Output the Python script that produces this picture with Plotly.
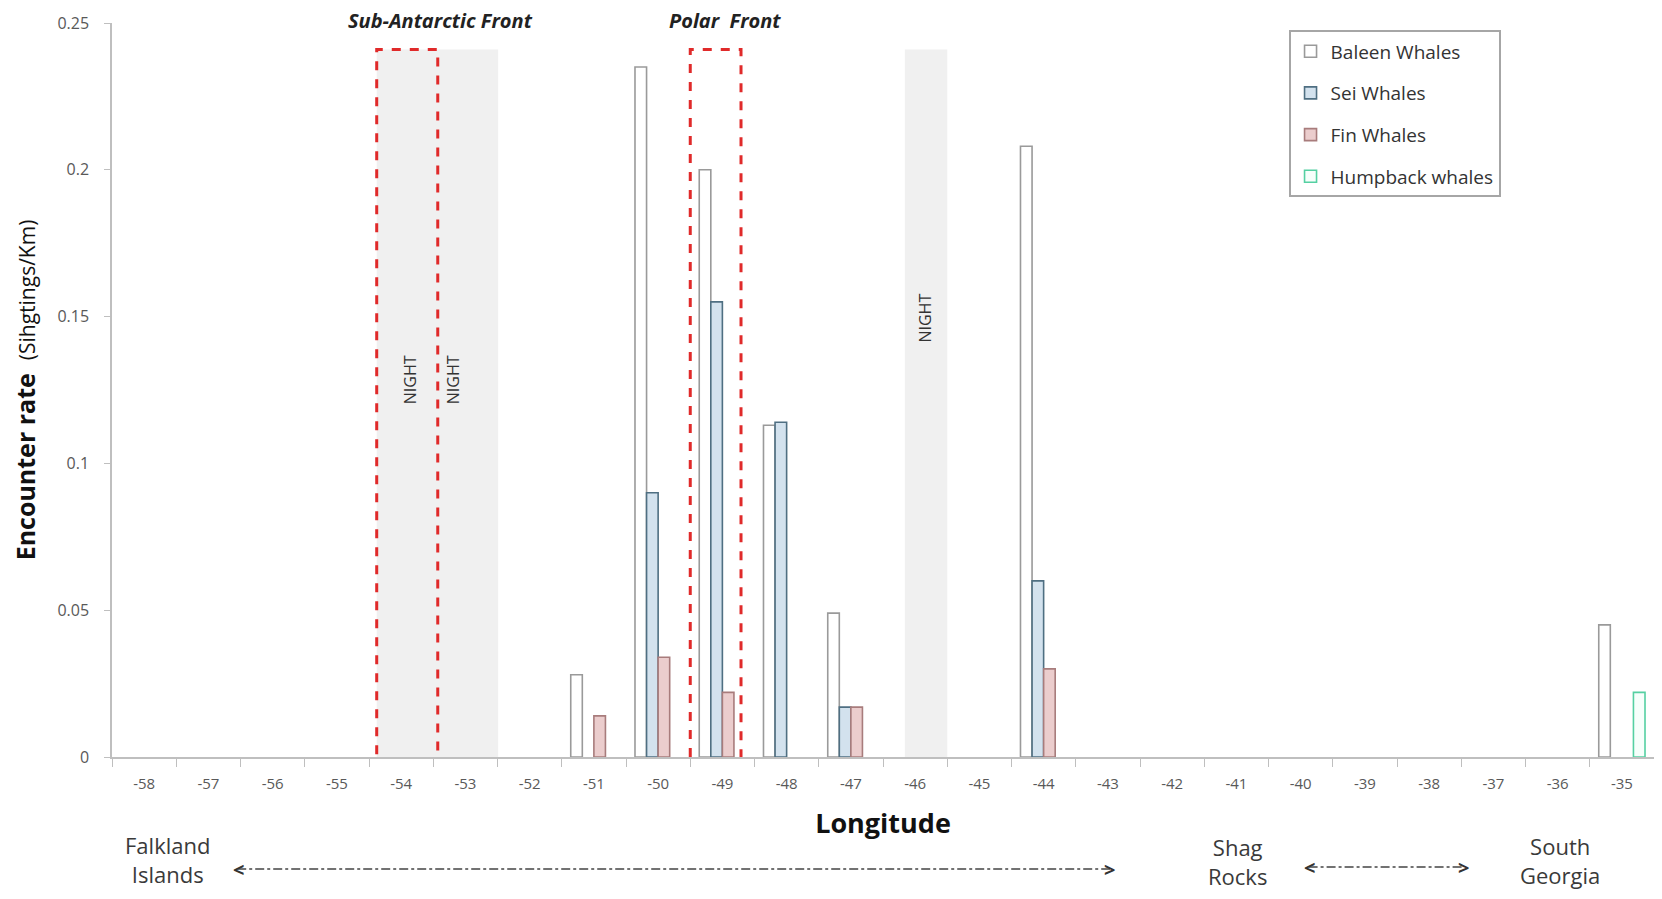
import plotly.graph_objects as go

longitudes = [-58, -57, -56, -55, -54, -53, -52, -51, -50, -49, -48, -47,
              -46, -45, -44, -43, -42, -41, -40, -39, -38, -37, -36, -35]
tick_labels = [str(v) for v in longitudes]

baleen   = [0, 0, 0, 0, 0, 0, 0, 0.028, 0.235, 0.200, 0.113, 0.049,
            0, 0, 0.208, 0, 0, 0, 0, 0, 0, 0, 0, 0.045]
sei      = [0, 0, 0, 0, 0, 0, 0, 0, 0.090, 0.155, 0.114, 0.017,
            0, 0, 0.060, 0, 0, 0, 0, 0, 0, 0, 0, 0]
fin      = [0, 0, 0, 0, 0, 0, 0, 0.014, 0.034, 0.022, 0, 0.017,
            0, 0, 0.030, 0, 0, 0, 0, 0, 0, 0, 0, 0]
humpback = [0, 0, 0, 0, 0, 0, 0, 0, 0, 0, 0, 0,
            0, 0, 0, 0, 0, 0, 0, 0, 0, 0, 0, 0.022]

y_ticks = [0, 0.05, 0.1, 0.15, 0.2, 0.25]
y_tick_labels = ["0", "0.05", "0.1", "0.15", "0.2", "0.25"]

series = [
    ("Baleen Whales", baleen, "#ffffff", "#9a9a9a"),
    ("Sei Whales", sei, "#d3e2ee", "#4f6f82"),
    ("Fin Whales", fin, "#ebcdcd", "#a87c7c"),
    ("Humpback whales", humpback, "#f6fffb", "#55d0a2"),
]

FONT = "Open Sans"

fig = go.Figure()
for name, vals, fill, edge in series:
    xs = [x for x, v in zip(longitudes, vals) if v]
    ys = [v for v in vals if v]
    fig.add_trace(go.Bar(
        x=xs, y=ys, name=name, legendgroup=name,
        marker=dict(color=fill, line=dict(color=edge, width=1.6)),
    ))

# night shading
night_bands = [(-54.38, -52.49), (-46.16, -45.50)]
for x0, x1 in night_bands:
    fig.add_shape(type="rect", xref="x", yref="y", x0=x0, x1=x1, y0=0, y1=0.241,
                  fillcolor="#f0f0f0", line=dict(width=0), layer="below")

# front boxes
front_boxes = [(-54.38, -53.43), (-49.50, -48.71)]
for x0, x1 in front_boxes:
    fig.add_shape(type="rect", xref="x", yref="y", x0=x0, x1=x1, y0=-0.0015, y1=0.241,
                  fillcolor="rgba(0,0,0,0)", line=dict(color="#e02a2a", width=3, dash="dash"),
                  layer="above")

# NIGHT labels
for xn, yn in [(-53.85, 0.1286), (-53.18, 0.1286), (-45.85, 0.1496)]:
    fig.add_annotation(x=xn, y=yn, xref="x", yref="y", text="NIGHT", showarrow=False,
                       textangle=-90, font=dict(family=FONT, size=16, color="#333333"))

# front labels
for xf, txt in [(-53.39, "Sub-Antarctic Front"), (-48.96, "Polar\u00a0\u00a0Front")]:
    fig.add_annotation(x=xf, y=1.003, xref="x", yref="paper", text="<b><i>" + txt + "</i></b>",
                       showarrow=False, yanchor="middle",
                       font=dict(family=FONT, size=20, color="#222222"))

# bottom place labels
places = [(0.0357, -0.1395, "Falkland<br>Islands"),
          (0.730, -0.1420, "Shag<br>Rocks"),
          (0.939, -0.1405, "South<br>Georgia")]
for px, py, txt in places:
    fig.add_annotation(x=px, y=py, xref="paper", yref="paper", text=txt, showarrow=False,
                       xanchor="center", yanchor="middle",
                       font=dict(family=FONT, size=22, color="#3a3a3a"))

# arrows (dash-dot with chevron heads)
arrows = [(0.0772, 0.652, -0.1526), (0.772, 0.881, -0.150)]
for ax0, ax1, ay in arrows:
    fig.add_shape(type="line", xref="paper", yref="paper", x0=ax0 + 0.004, x1=ax1 - 0.004,
                  y0=ay, y1=ay, line=dict(color="#444444", width=1.5, dash="dashdot"))
    fig.add_annotation(x=ax0, y=ay, xref="paper", yref="paper", text="<b>&lt;</b>",
                       showarrow=False, xanchor="left", yanchor="middle",
                       font=dict(family=FONT, size=20, color="#333333"))
    fig.add_annotation(x=ax1, y=ay, xref="paper", yref="paper", text="<b>&gt;</b>",
                       showarrow=False, xanchor="right", yanchor="middle",
                       font=dict(family=FONT, size=20, color="#333333"))

boundaries = [v - 0.5 for v in longitudes] + [longitudes[-1] + 0.5]

# the page body adds an 8px margin, so the figure is sized to fit the 1662x899 window
fig.update_layout(
    width=1646, height=883,
    margin=dict(l=104, r=0, t=15, b=134, autoexpand=False),
    paper_bgcolor="white", plot_bgcolor="white",
    barmode="group", bargap=0.28, bargroupgap=0,
    font=dict(family=FONT, color="#595959"),
    showlegend=True,
    legend=dict(x=0.763, y=0.990, xanchor="left", yanchor="top",
                bordercolor="#a6a6a6", borderwidth=2, bgcolor="white",
                font=dict(family=FONT, size=19, color="#333333"),
                tracegroupgap=14, itemwidth=30),
    xaxis=dict(
        range=[-58.5, -34.5], tickmode="array", tickvals=longitudes, ticktext=tick_labels,
        ticks="", showgrid=False, zeroline=False, automargin=False,
        showline=True, linecolor="#bfbfbf", linewidth=1.5,
        tickfont=dict(family=FONT, size=15, color="#595959"),
        ticklabelstandoff=12,
        minor=dict(tickmode="array", tickvals=boundaries, ticks="outside",
                   ticklen=8, tickcolor="#bfbfbf", tickwidth=1.2, showgrid=False),
        title=dict(text="<b>Longitude</b>", standoff=22,
                   font=dict(family=FONT, size=27, color="#111111")),
    ),
    yaxis=dict(
        range=[0, 0.25], tickmode="array", tickvals=y_ticks, ticktext=y_tick_labels,
        ticks="outside", ticklen=6, tickcolor="#bfbfbf", showgrid=False, zeroline=False,
        automargin=False,
        showline=True, linecolor="#bfbfbf", linewidth=1.5,
        tickfont=dict(family=FONT, size=16, color="#595959"),
        ticklabelstandoff=12,
        title=dict(text="<b>Encounter rate</b>  <span style='font-size:21px;font-weight:normal'>(Sihgtings/Km)</span>",
                   standoff=20, font=dict(family=FONT, size=25, color="#111111")),
    ),
)

fig.write_html("out.html")
